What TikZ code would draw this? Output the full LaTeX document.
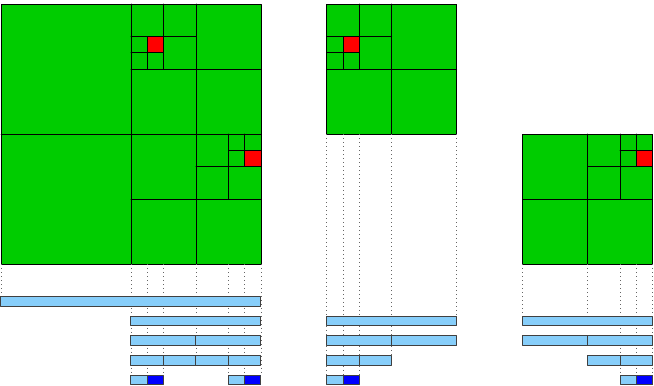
\documentclass[tikz,border=0pt]{standalone}
\usepackage{tikz}
\definecolor{leafgreen}{HTML}{00CC00}
\definecolor{hotred}{HTML}{FF0000}
\definecolor{barblue}{HTML}{87CEFA}
\definecolor{hotblue}{HTML}{0000FF}
\tikzset{
  every picture/.style={line join=round, line cap=round},
  leaf/.style={fill=leafgreen},
  hot/.style={fill=hotred},
  edge/.style={draw=black, line width=0.6pt},
  bar/.style={fill=barblue, draw=black!75, line width=0.7pt},
  barhot/.style={fill=hotblue, draw=black!75, line width=0.7pt},
  guide/.style={draw=black!60, line width=0.5pt, line cap=butt, dash pattern=on 0.7pt off 2.1pt},
}

\begin{document}
\begin{tikzpicture}[x=0.4cm, y=-0.4cm]
\useasboundingbox (-0.06,-0.25) rectangle (40.19,23.5);
\fill[leaf] (0,0) rectangle (16,16);
\fill[hot] (9,2) rectangle (10,3);
\fill[hot] (15,9) rectangle (16,10);
\draw[edge] (0,0) rectangle (16,16);
\draw[edge] (8,0) -- (8,16) (0,8) -- (16,8);
\draw[edge] (12,0) -- (12,8) (8,4) -- (16,4);
\draw[edge] (10,0) -- (10,4) (8,2) -- (12,2);
\draw[edge] (9,2) -- (9,4) (8,3) -- (10,3);
\draw[edge] (12,8) -- (12,16) (8,12) -- (16,12);
\draw[edge] (14,8) -- (14,12) (12,10) -- (16,10);
\draw[edge] (15,8) -- (15,10) (14,9) -- (16,9);
\draw[guide] (0,16) -- (0,18);
\draw[guide] (8,16) -- (8,22.84) (9,16) -- (9,22.84) (10,16) -- (10,22.84);
\draw[guide] (12,16) -- (12,21.63);
\draw[guide] (14,16) -- (14,22.84) (15,16) -- (15,22.84) (16,16) -- (16,22.84);
\draw[bar] (0,18) rectangle (16,18.6);
\draw[bar] (8,19.21) rectangle (16,19.81);
\draw[bar] (8,20.42) rectangle (12,21.02);
\draw[bar] (12,20.42) rectangle (16,21.02);
\draw[bar] (8,21.63) rectangle (10,22.23);
\draw[bar] (10,21.63) rectangle (12,22.23);
\draw[bar] (12,21.63) rectangle (14,22.23);
\draw[bar] (14,21.63) rectangle (16,22.23);
\draw[bar] (8,22.84) rectangle (9,23.44);
\draw[barhot] (9,22.84) rectangle (10,23.44);
\draw[bar] (14,22.84) rectangle (15,23.44);
\draw[barhot] (15,22.84) rectangle (16,23.44);
\begin{scope}[shift={(12.05,0)}]
  \fill[leaf] (8,0) rectangle (16,8);
  \fill[hot] (9,2) rectangle (10,3);
  \draw[edge] (8,0) rectangle (16,8);
  \draw[edge] (12,0) -- (12,8) (8,4) -- (16,4);
  \draw[edge] (10,0) -- (10,4) (8,2) -- (12,2);
  \draw[edge] (9,2) -- (9,4) (8,3) -- (10,3);
  \draw[guide] (8,8) -- (8,22.84) (9,8) -- (9,22.84) (10,8) -- (10,22.84);
  \draw[guide] (12,8) -- (12,21.63) (16,8) -- (16,19.21);
  \draw[bar] (8,19.21) rectangle (16,19.81);
  \draw[bar] (8,20.42) rectangle (12,21.02);
  \draw[bar] (12,20.42) rectangle (16,21.02);
  \draw[bar] (8,21.63) rectangle (10,22.23);
  \draw[bar] (10,21.63) rectangle (12,22.23);
  \draw[bar] (8,22.84) rectangle (9,23.44);
  \draw[barhot] (9,22.84) rectangle (10,23.44);
\end{scope}
\begin{scope}[shift={(24.1,0)}]
  \fill[leaf] (8,8) rectangle (16,16);
  \fill[hot] (15,9) rectangle (16,10);
  \draw[edge] (8,8) rectangle (16,16);
  \draw[edge] (12,8) -- (12,16) (8,12) -- (16,12);
  \draw[edge] (14,8) -- (14,12) (12,10) -- (16,10);
  \draw[edge] (15,8) -- (15,10) (14,9) -- (16,9);
  \draw[guide] (8,16) -- (8,19.21) (12,16) -- (12,19.21);
  \draw[guide] (14,16) -- (14,22.84) (15,16) -- (15,22.84) (16,16) -- (16,22.84);
  \draw[bar] (8,19.21) rectangle (16,19.81);
  \draw[bar] (8,20.42) rectangle (12,21.02);
  \draw[bar] (12,20.42) rectangle (16,21.02);
  \draw[bar] (12,21.63) rectangle (14,22.23);
  \draw[bar] (14,21.63) rectangle (16,22.23);
  \draw[bar] (14,22.84) rectangle (15,23.44);
  \draw[barhot] (15,22.84) rectangle (16,23.44);
\end{scope}
\end{tikzpicture}
\end{document}
